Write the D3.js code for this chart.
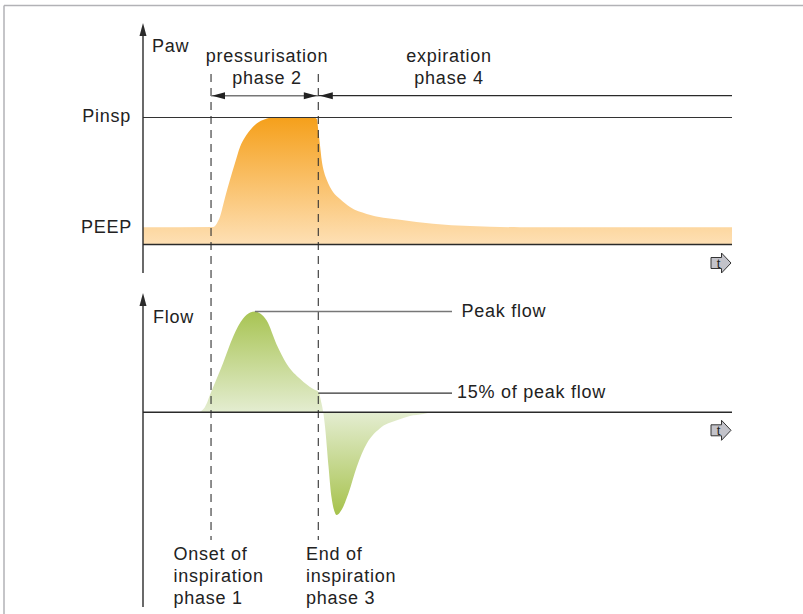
<!DOCTYPE html>
<html>
<head>
<meta charset="utf-8">
<script src="https://cdn.jsdelivr.net/npm/d3@7"></script>
<style>
  html, body { margin: 0; padding: 0; background: #fff; }
  svg { display: block; }
  text { font-family: "Liberation Sans", Arial, Helvetica, sans-serif; font-size: 18px; fill: #222; letter-spacing: 0.75px; }
</style>
</head>
<body>
<svg id="chart" width="803" height="614"></svg>
<script>
// ---------------- data ----------------
// time axis in arbitrary units (0..100)
const pressureTime  = [0, 11.9, 12.56, 13.07, 13.92, 14.77, 15.62, 16.47, 17.32, 18.17, 19.35, 20.71, 22.07, 29.03, 29.54, 29.76, 30.05, 30.34, 30.73, 31.19, 32.26, 33.45, 35.14, 37.98, 43.63, 49.24, 55.52, 64.0, 100];
const pressureValue = [3, 3.05, 3.7, 4.8, 8.1, 11.2, 14.1, 16.9, 18.6, 19.8, 21.0, 21.7, 22, 22, 21.7, 19.8, 17.2, 14.6, 12.6, 11.2, 9.1, 7.9, 6.5, 5.3, 4.3, 3.6, 3.2, 3, 3];

const flowTime  = [0, 9.3, 9.7, 10.5, 11.7, 13.6, 15.3, 17.0, 18.2, 19.0, 19.9, 21.0, 22.7, 24.4, 26.7, 28.9, 29.8, 30.3, 30.6, 30.9, 31.5, 32.0, 32.9, 33.7, 34.9, 36.3, 38.0, 40.2, 43.1, 45.3, 47.6, 49.1, 100];
const flowValue = [0, 0, 0.6, 5, 22, 49, 75, 93, 99, 100, 98, 91, 67, 48, 33, 23, 20, 9, 0, -14, -54, -84, -102, -97, -80, -54, -31, -16, -8, -3.7, -1.7, 0, 0];

const PEEP = 3, PINSP = 22;
const peakFlow = 100, peakFlowTime = 19.0;
const thresholdFlow = 19;          // drawn level of "15% of peak flow"
const onsetTime = 11.55, endInspTime = 29.76;

const pressureLabels = ["Paw", "Pinsp", "PEEP"];
const phaseLabels = [["pressurisation", "phase 2"], ["expiration", "phase 4"]];
const flowLabels = ["Flow", "Peak flow", "15% of peak flow"];
const eventLabels = [["Onset of", "inspiration", "phase 1"], ["End of", "inspiration", "phase 3"]];

// ---------------- layout ----------------
const svg = d3.select("#chart");
const x = d3.scaleLinear().domain([0, 100]).range([143, 732]);
const yP = d3.scaleLinear().domain([0, 22]).range([244.5, 117.5]);
const yF = d3.scaleLinear().domain([0, 100]).range([412.3, 311.5]);

const ink = "#2a2a2a";

// frame (top + left)
svg.append("line").attr("x1", 4).attr("y1", 5.5).attr("x2", 803).attr("y2", 5.5).attr("stroke", "#b2b2b6").attr("stroke-width", 1.5);
svg.append("line").attr("x1", 4).attr("y1", 5.5).attr("x2", 4).attr("y2", 614).attr("stroke", "#b2b2b6").attr("stroke-width", 1.5);

const defs = svg.append("defs");
const gP = defs.append("linearGradient").attr("id", "gP").attr("gradientUnits", "userSpaceOnUse")
  .attr("x1", 0).attr("x2", 0).attr("y1", yP(PINSP)).attr("y2", yP(0));
gP.append("stop").attr("offset", 0).attr("stop-color", "#f5a01b");
gP.append("stop").attr("offset", 1).attr("stop-color", "#fee0b5");

const fMin = d3.min(flowValue);
const gF = defs.append("linearGradient").attr("id", "gF").attr("gradientUnits", "userSpaceOnUse")
  .attr("x1", 0).attr("x2", 0).attr("y1", yF(peakFlow)).attr("y2", yF(fMin));
const zeroOff = (yF(0) - yF(peakFlow)) / (yF(fMin) - yF(peakFlow));
gF.append("stop").attr("offset", 0).attr("stop-color", "#a8c453");
gF.append("stop").attr("offset", zeroOff).attr("stop-color", "#e4edd1");
gF.append("stop").attr("offset", 1).attr("stop-color", "#a6c24c");

// pressure area
const pData = pressureTime.map((t, i) => ({ t, v: pressureValue[i] }));
svg.append("path").datum(pData)
  .attr("d", d3.area().curve(d3.curveMonotoneX).x(d => x(d.t)).y0(yP(0)).y1(d => yP(d.v)))
  .attr("fill", "url(#gP)");

// flow area
const fData = flowTime.map((t, i) => ({ t, v: flowValue[i] }));
svg.append("path").datum(fData)
  .attr("d", d3.area().curve(d3.curveMonotoneX).x(d => x(d.t)).y0(yF(0)).y1(d => yF(d.v)))
  .attr("fill", "url(#gF)");

// dashed event lines
[onsetTime, endInspTime].forEach(t => {
  svg.append("line").attr("x1", x(t)).attr("x2", x(t)).attr("y1", 74).attr("y2", 540)
    .attr("stroke", "#333").attr("stroke-width", 1.1).attr("stroke-dasharray", "8,6");
});

// horizontal reference lines
function hline(x1, x2, y, color, w) {
  svg.append("line").attr("x1", x1).attr("x2", x2).attr("y1", y).attr("y2", y)
    .attr("stroke", color).attr("stroke-width", w);
}
hline(x(0), x(100), yP(0), ink, 1.4);
hline(x(0), x(100), yP(PINSP), "#333", 1.2);
hline(x(0), x(100), yF(0), ink, 1.4);
hline(x(peakFlowTime), 452, yF(peakFlow), "#777", 1.3);
hline(x(endInspTime), 452, yF(thresholdFlow), "#333", 1.2);

// vertical axes with arrowheads
function vaxis(xx, yTop, yBot) {
  svg.append("line").attr("x1", xx).attr("x2", xx).attr("y1", yTop + 8).attr("y2", yBot)
    .attr("stroke", ink).attr("stroke-width", 1.4);
  svg.append("path").attr("d", `M${xx},${yTop} L${xx - 3.5},${yTop + 13} L${xx + 3.5},${yTop + 13} Z`).attr("fill", ink);
}
vaxis(x(0), 23, 273);
vaxis(x(0), 293, 607);

// phase arrows
const ay = 95.7;
function arrowHead(tipX, dir, color) { // dir -1 = points left, +1 = points right
  const L = 13, H = 3.5;
  svg.append("path").attr("d", `M${tipX},${ay} L${tipX - dir * L},${ay - H} L${tipX - dir * L},${ay + H} Z`).attr("fill", color);
}
hline(x(onsetTime), x(endInspTime), ay, "#777", 1.4);
arrowHead(x(onsetTime) + 1, -1, "#222");
arrowHead(x(endInspTime) - 1.5, 1, "#222");
hline(x(endInspTime), x(100), ay, ink, 1.2);
arrowHead(x(endInspTime) + 1.5, -1, "#222");

// time icons
function tIcon(cy) {
  const x0 = 711, x1 = 721.5, xt = 731;
  svg.append("path")
    .attr("d", `M${x0},${cy - 5.5} L${x1},${cy - 5.5} L${x1},${cy - 10} L${xt},${cy} L${x1},${cy + 10} L${x1},${cy + 5.5} L${x0},${cy + 5.5} Z`)
    .attr("fill", "#c3c3ca").attr("stroke", "#333").attr("stroke-width", 1);
  svg.append("text").attr("x", 718.5).attr("y", cy + 4.5).attr("text-anchor", "middle")
    .style("font-size", "13px").style("letter-spacing", "0").text("t");
}
tIcon(yP(0) + 18.5);
tIcon(yF(0) + 18);

// texts
function txt(s, xx, yy, anchor) {
  svg.append("text").attr("x", xx).attr("y", yy).attr("text-anchor", anchor || "start").text(s);
}
txt(pressureLabels[0], 152, 52.3);
txt(pressureLabels[1], 131, 122, "end");
txt(pressureLabels[2], 132, 233, "end");

txt(phaseLabels[0][0], 267, 61.5, "middle");
txt(phaseLabels[0][1], 267, 84.3, "middle");
txt(phaseLabels[1][0], 449, 61.5, "middle");
txt(phaseLabels[1][1], 449, 84.3, "middle");

txt(flowLabels[0], 153, 322.7);
txt(flowLabels[1], 461.5, 316.5);
txt(flowLabels[2], 457, 398);

eventLabels.forEach((lines, i) => {
  const lx = i === 0 ? 173.5 : 306;
  lines.forEach((s, j) => txt(s, lx, 560 + j * 22.2));
});
</script>
</body>
</html>
